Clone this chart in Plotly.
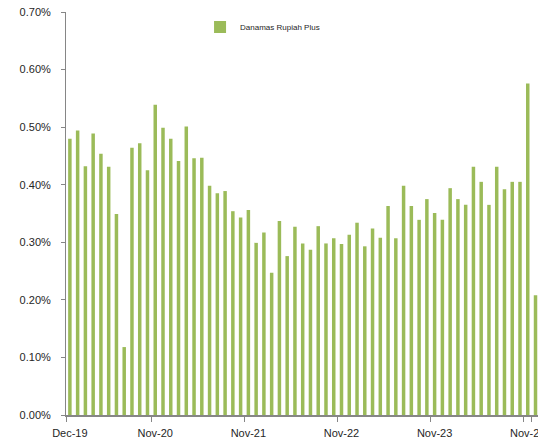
import pandas as pd
import plotly.graph_objects as go

series_name = "Danamas Rupiah Plus"
months = list(pd.date_range("2019-12-01", periods=61, freq="MS").strftime("%b-%y"))
values = [
    0.480, 0.494, 0.432, 0.489, 0.454, 0.431, 0.349, 0.118, 0.464, 0.472,
    0.425, 0.539, 0.499, 0.480, 0.441, 0.501, 0.446, 0.447, 0.398, 0.385,
    0.389, 0.354, 0.343, 0.356, 0.299, 0.317, 0.247, 0.337, 0.276, 0.327,
    0.298, 0.287, 0.328, 0.298, 0.307, 0.297, 0.313, 0.334, 0.293, 0.324,
    0.308, 0.363, 0.307, 0.398, 0.363, 0.339, 0.375, 0.351, 0.339, 0.394,
    0.375, 0.365, 0.431, 0.405, 0.365, 0.431, 0.392, 0.405, 0.405, 0.576,
    0.208,
]
x_tick_labels = ["Dec-19", "Nov-20", "Nov-21", "Nov-22", "Nov-23", "Nov-24"]
y_ticks = [0.0, 0.1, 0.2, 0.3, 0.4, 0.5, 0.6, 0.7]
y_tick_text = [f"{v:.2f}%" for v in y_ticks]

fig = go.Figure()
fig.add_trace(go.Bar(
    x=months, y=values, name=series_name,
    marker=dict(color="#9BBB59", line=dict(width=0)),
    showlegend=True,
))

font_family = "Liberation Sans, Arial, sans-serif"
fig.update_layout(
    width=538, height=442,
    margin=dict(l=66, r=0, t=12, b=27, autoexpand=False),
    paper_bgcolor="white", plot_bgcolor="white",
    bargap=0.55,
    font=dict(family=font_family, size=11, color="#262626"),
    showlegend=True,
    legend=dict(
        x=0.284, y=0.963, xanchor="left", yanchor="middle",
        font=dict(size=8, color="#262626"),
        bgcolor="rgba(0,0,0,0)", itemwidth=30,
    ),
    xaxis=dict(
        type="category", automargin=False,
        range=[-0.5, 60.32],
        tickmode="array", tickvals=x_tick_labels, ticktext=x_tick_labels,
        tickson="boundaries",
        ticks="outside", ticklen=5, tickcolor="#868686", tickwidth=1,
        ticklabelstandoff=7,
        showline=True, linecolor="#868686", linewidth=2,
        showgrid=False, zeroline=False,
        tickangle=0,
    ),
    yaxis=dict(
        automargin=False,
        range=[0, 0.7],
        tickmode="array", tickvals=y_ticks, ticktext=y_tick_text,
        ticks="outside", ticklen=4, tickcolor="#868686", tickwidth=1,
        ticklabelstandoff=8,
        showline=True, linecolor="#868686", linewidth=1,
        showgrid=False, zeroline=False,
    ),
)

fig.write_html(
    "out.html",
    config={"displayModeBar": False},
    post_script="document.body.style.margin='0';document.body.style.overflow='hidden';",
)
